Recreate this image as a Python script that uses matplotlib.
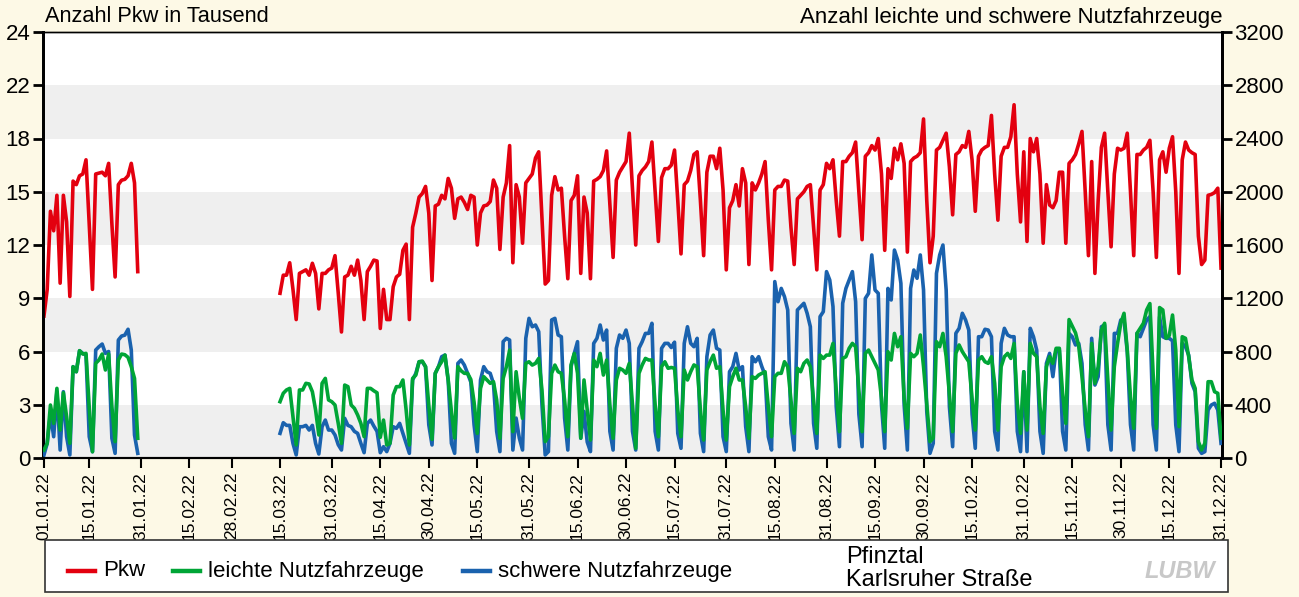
import numpy as np
import pandas as pd
import matplotlib
matplotlib.use('Agg')
import matplotlib.pyplot as plt
import matplotlib.dates as mdates
from matplotlib.lines import Line2D
from matplotlib.patches import Rectangle

plt.rcParams['font.family'] = ['Liberation Sans', 'DejaVu Sans']

# ---------------- data (daily values 2022) ----------------
# Pkw in thousands, 01.01.-30.01.
pkw_jan = [8.0, 9.5, 13.9, 12.8, 14.8, 9.85, 14.8, 13.3, 9.1, 15.6, 15.4, 15.9, 16.0, 16.8,
           13.1, 9.5, 16.0, 16.05, 16.1, 15.9, 16.6, 13.2, 10.2, 15.4, 15.65, 15.7, 15.9, 16.6,
           15.5, 10.5]
# Pkw in thousands, 15.03.-31.12.
pkw_main = [
    9.28, 10.3, 10.3, 11.0, 9.5, 7.8,
    10.4, 10.5, 10.6, 10.3, 10.97, 10.4, 8.4,
    10.4, 10.4, 10.6, 10.7, 11.4, 9.3, 7.1,
    10.2, 10.3, 10.8, 10.3, 11.15, 10.0, 7.8,
    10.5, 10.8, 11.15, 11.1, 7.3, 9.5, 7.8,
    7.8, 9.65, 10.2, 10.35, 11.7, 12.05, 7.8,
    13.0, 13.8, 14.7, 14.9, 15.3, 13.8, 10.0,
    14.2, 14.3, 14.8, 14.6, 15.75, 15.2, 13.5,
    14.6, 14.7, 14.4, 14.0, 14.8, 14.7, 12.0,
    13.8, 14.2, 14.25, 14.45, 15.66, 15.2, 11.75,
    14.7, 15.5, 17.6, 11.0, 15.4, 14.7, 12.1,
    15.5, 15.75, 16.0, 16.9, 17.25, 13.5, 9.8,
    10.0, 14.8, 15.85, 15.1, 15.2, 12.5, 10.1,
    14.5, 14.8, 15.9, 10.4, 14.7, 13.8, 10.1,
    15.6, 15.7, 15.85, 16.2, 17.3, 14.3, 11.3,
    15.66, 16.1, 16.4, 16.7, 18.3, 15.1, 12.0,
    15.9, 16.2, 16.4, 16.7, 17.8, 15.0, 12.2,
    15.8, 16.3, 16.3, 16.5, 17.35, 14.5, 11.5,
    15.4, 15.6, 16.2, 17.1, 17.25, 14.5, 11.4,
    16.1, 17.0, 17.0, 16.3, 17.45, 15.1, 10.6,
    14.1, 14.5, 15.4, 14.2, 16.3, 15.5, 10.9,
    15.5, 15.1, 15.5, 16.0, 16.7, 13.4, 10.6,
    15.1, 15.3, 15.3, 15.66, 15.6, 13.0, 10.9,
    14.6, 14.8, 15.0, 15.3, 15.4, 13.0, 10.6,
    15.1, 15.4, 16.6, 16.3, 16.8, 14.5, 12.5,
    16.7, 16.7, 17.0, 17.2, 17.8, 15.0, 12.3,
    17.0, 17.2, 17.6, 17.35, 18.0, 16.0, 11.7,
    16.3, 15.75, 17.45, 16.8, 17.7, 16.6, 11.6,
    16.7, 16.9, 17.0, 17.2, 19.1, 14.5, 11.0,
    12.5, 17.35, 17.5, 17.9, 18.3, 16.4, 13.7,
    17.1, 17.25, 17.6, 17.5, 18.4, 16.8, 13.9,
    17.0, 17.35, 17.5, 17.6, 19.3, 16.0, 13.4,
    17.0, 17.5, 17.5, 18.1, 19.9, 16.0, 13.3,
    17.25, 12.2, 18.0, 17.25, 18.0, 16.0, 12.1,
    15.4, 14.25, 14.1, 14.5, 16.1, 16.1, 12.1,
    16.6, 16.8, 17.1, 17.7, 18.4, 15.0, 11.4,
    16.7, 10.4, 14.5, 17.5, 18.3, 15.0, 11.9,
    16.0, 17.45, 17.35, 17.45, 18.3, 15.0, 11.4,
    17.1, 17.1, 17.35, 17.5, 17.9, 15.0, 11.3,
    16.8, 17.25, 16.1, 17.45, 18.1, 15.0, 10.4,
    16.8, 17.8, 17.35, 17.2, 17.1, 12.5, 10.9,
    11.15, 14.8, 14.85, 14.95, 15.2, 10.7]

# leichte Nutzfahrzeuge (count)
lnf_jan = [60, 110, 398, 260, 523, 210, 490, 310, 110, 686, 648, 806, 781, 786,
           380, 47, 711, 736, 781, 661, 781, 386, 123, 736, 781, 776, 756, 686, 598, 148]
lnf_main = [
    423, 486, 511, 523, 310, 98,
    511, 511, 561, 556, 498, 360, 173,
    561, 598, 436, 423, 398, 260, 110,
    548, 536, 398, 373, 323, 260, 160,
    523, 523, 505, 490, 155, 285, 98,
    110, 473, 536, 536, 586, 360, 98,
    598, 623, 723, 728, 686, 398, 140,
    636, 686, 723, 773, 586, 350, 150,
    686, 655, 636, 636, 590, 420, 185,
    523, 611, 586, 561, 573, 436, 148,
    598, 686, 811, 198, 648, 450, 298,
    711, 723, 698, 711, 748, 511, 123,
    160, 636, 698, 648, 636, 436, 160,
    700, 786, 636, 150, 586, 360, 135,
    736, 686, 786, 623, 736, 400, 148,
    586, 674, 661, 636, 711, 400, 73,
    636, 699, 748, 736, 736, 400, 160,
    686, 723, 674, 680, 674, 360, 160,
    661, 586, 648, 699, 686, 360, 135,
    661, 723, 773, 674, 686, 360, 135,
    536, 611, 674, 586, 586, 385, 148,
    611, 598, 623, 636, 648, 385, 160,
    611, 636, 636, 723, 686, 436, 185,
    674, 648, 711, 736, 686, 436, 185,
    773, 748, 773, 773, 861, 511, 198,
    748, 761, 824, 861, 836, 511, 198,
    786, 811, 761, 711, 661, 450, 198,
    799, 736, 936, 836, 911, 450, 223,
    786, 761, 786, 924, 686, 400, 123,
    150, 874, 836, 936, 761, 480, 198,
    786, 849, 799, 761, 723, 450, 210,
    736, 761, 723, 711, 761, 561, 210,
    686, 761, 786, 748, 861, 411, 185,
    648, 210, 861, 786, 761, 386, 185,
    686, 761, 711, 824, 824, 486, 260,
    1040, 990, 940, 840, 611, 360, 160,
    861, 561, 686, 961, 1012, 586, 210,
    686, 861, 1012, 1087, 811, 461, 223,
    936, 974, 1012, 1112, 1160, 636, 223,
    1130, 1112, 899, 920, 1074, 811, 236,
    911, 899, 761, 586, 523, 123, 60,
    110, 573, 573, 498, 486, 148]

# schwere Nutzfahrzeuge (count)
snf_jan = [23, 110, 335, 160, 498, 60, 498, 160, 23, 686, 648, 806, 786, 773,
           160, 47, 811, 836, 856, 786, 800, 148, 35, 886, 916, 923, 967, 811, 173, 35]
snf_main = [
    185, 265, 245, 245, 110, 23,
    235, 235, 245, 210, 245, 110, 30,
    235, 285, 210, 210, 173, 100, 60,
    298, 245, 235, 200, 185, 110, 40,
    260, 285, 240, 200, 40, 85, 48,
    110, 235, 223, 260, 185, 110, 35,
    586, 636, 723, 723, 686, 250, 98,
    636, 686, 761, 773, 586, 110, 35,
    711, 736, 698, 636, 570, 250, 48,
    586, 686, 648, 636, 560, 200, 48,
    874, 899, 886, 60, 300, 150, 60,
    899, 1049, 986, 999, 949, 400, 23,
    48, 1037, 1049, 924, 911, 300, 60,
    686, 786, 874, 148, 350, 120, 48,
    861, 899, 999, 886, 961, 200, 60,
    824, 924, 899, 961, 861, 200, 60,
    824, 874, 936, 936, 1012, 200, 60,
    824, 861, 861, 830, 870, 185, 73,
    861, 986, 861, 836, 899, 185, 48,
    761, 924, 961, 824, 811, 160, 48,
    648, 686, 786, 661, 686, 236, 48,
    761, 723, 761, 686, 623, 160, 60,
    1325, 1174, 1274, 1212, 1112, 260, 60,
    1112, 1137, 1162, 1087, 986, 260, 73,
    1062, 1099, 1400, 1337, 1137, 386, 85,
    1162, 1274, 1337, 1400, 1174, 330, 85,
    1199, 1237, 1525, 1262, 1237, 400, 73,
    1274, 1187, 1562, 1487, 1312, 400, 60,
    1274, 1412, 1350, 1525, 1262, 350, 35,
    110, 1387, 1525, 1600, 1262, 386, 85,
    937, 974, 1087, 1037, 961, 330, 73,
    911, 911, 967, 961, 911, 200, 60,
    861, 974, 924, 911, 911, 200, 48,
    648, 48, 974, 911, 811, 200, 35,
    711, 786, 611, 811, 811, 200, 60,
    936, 911, 849, 861, 711, 250, 60,
    899, 548, 611, 986, 999, 250, 60,
    936, 936, 1037, 1037, 800, 250, 60,
    936, 911, 974, 1037, 1062, 250, 60,
    1060, 911, 899, 899, 880, 250, 48,
    861, 836, 773, 561, 498, 73, 35,
    48, 361, 398, 411, 361, 110]

x_tick_labels = ['01.01.22', '15.01.22', '31.01.22', '15.02.22', '28.02.22', '15.03.22',
                 '31.03.22', '15.04.22', '30.04.22', '15.05.22', '31.05.22', '15.06.22',
                 '30.06.22', '15.07.22', '31.07.22', '15.08.22', '31.08.22', '15.09.22',
                 '30.09.22', '15.10.22', '31.10.22', '15.11.22', '30.11.22', '15.12.22',
                 '31.12.22']
y_left_ticks = [0, 3, 6, 9, 12, 15, 18, 21, 24]
y_left_labels = ['0', '3', '6', '9', '12', '15', '18', '22', '24']
y_right_ticks = [0, 400, 800, 1200, 1600, 2000, 2400, 2800, 3200]

series_names = ['Pkw', 'leichte Nutzfahrzeuge', 'schwere Nutzfahrzeuge']

# ---------------- assemble ----------------
dates = pd.date_range('2022-01-01', '2022-12-31', freq='D')
assert len(pkw_main) == 292 and len(lnf_main) == 292 and len(snf_main) == 292, \
    (len(pkw_main), len(lnf_main), len(snf_main))


def full(jan, main):
    s = np.full(len(dates), np.nan)
    s[:len(jan)] = jan
    s[len(dates) - len(main):] = main
    return s


pkw = full(pkw_jan, pkw_main)
lnf = full(lnf_jan, lnf_main)
snf = full(snf_jan, snf_main)

# ---------------- style ----------------
BG = '#FDF9E6'
RED = '#E3000F'
GREEN = '#00A536'
BLUE = '#1A62AE'
BAND = '#EFEFEF'
LW = 2.6

W, H = 1299, 597
fig = plt.figure(figsize=(W / 100, H / 100), dpi=100, facecolor=BG)
L, R, T, B = 43, 1222, 32, 458
ax = fig.add_axes([L / W, 1 - B / H, (R - L) / W, (B - T) / H])
ax.set_facecolor('white')
for lo in (0, 6, 12, 18):
    ax.axhspan(lo, lo + 3, color=BAND, lw=0, zorder=0)

ax.set_ylim(0, 24)
x0 = mdates.date2num(pd.Timestamp('2022-01-01')) - 0.3
x1 = mdates.date2num(pd.Timestamp('2022-12-31')) + 0.3
ax.set_xlim(x0, x1)

ax.plot(dates, pkw, color=RED, lw=LW, zorder=3)

ax2 = ax.twinx()
ax2.set_ylim(0, 3200)
ax2.plot(dates, snf, color=BLUE, lw=LW, zorder=3)
ax2.plot(dates, lnf, color=GREEN, lw=LW, zorder=4)
ax2.set_xlim(x0, x1)

# ticks
tick_dates = [pd.to_datetime(s, format='%d.%m.%y') for s in x_tick_labels]
ax.set_xticks(tick_dates)
ax.set_xticklabels(x_tick_labels, rotation=90, fontsize=12.5)
ax.tick_params(axis='x', direction='out', length=7, width=1.5, pad=3, colors='black')
ax.set_yticks(y_left_ticks)
ax.set_yticklabels(y_left_labels, fontsize=16)
ax.tick_params(axis='y', direction='out', length=7, width=2, pad=2)
ax2.set_yticks(y_right_ticks)
ax2.set_yticklabels([str(v) for v in y_right_ticks], fontsize=16)
ax2.tick_params(axis='y', direction='out', length=7, width=2, pad=2)

for a in (ax, ax2):
    a.spines['left'].set_linewidth(2)
    a.spines['right'].set_linewidth(2)
    a.spines['top'].set_linewidth(1)
    a.spines['bottom'].set_linewidth(1.5)

# headings
fig.text(45 / W, 1 - 17 / H, 'Anzahl Pkw in Tausend', fontsize=15.7, va='center', ha='left')
fig.text(1222 / W, 1 - 17 / H, 'Anzahl leichte und schwere Nutzfahrzeuge', fontsize=16,
         va='center', ha='right')

# legend box
fig.patches.append(Rectangle((45 / W, 1 - 592 / H), (1228 - 45) / W, (592 - 540) / H,
                             transform=fig.transFigure, facecolor='white',
                             edgecolor='#333333', lw=1.2, zorder=1))
entries = [(68, RED, series_names[0]), (173, GREEN, series_names[1]), (463, BLUE, series_names[2])]
yl = 1 - 571 / H
for xs, col, name in entries:
    fig.lines.append(Line2D([xs / W, (xs + 27) / W], [yl, yl], transform=fig.transFigure,
                            color=col, lw=3.2, zorder=2))
    fig.text((xs + 35) / W, yl, name, fontsize=16, va='center', ha='left')
fig.text(846 / W, 1 - 557 / H, 'Pfinztal', fontsize=17, va='center', ha='left')
fig.text(846 / W, 1 - 580 / H, 'Karlsruher Straße', fontsize=17, va='center', ha='left')
fig.text(1180 / W, 1 - 571 / H, 'LUBW', fontsize=17, va='center', ha='center',
         color='#C8C8C8', style='italic', fontweight='bold')

fig.savefig('out.png', dpi=100, facecolor=BG)
